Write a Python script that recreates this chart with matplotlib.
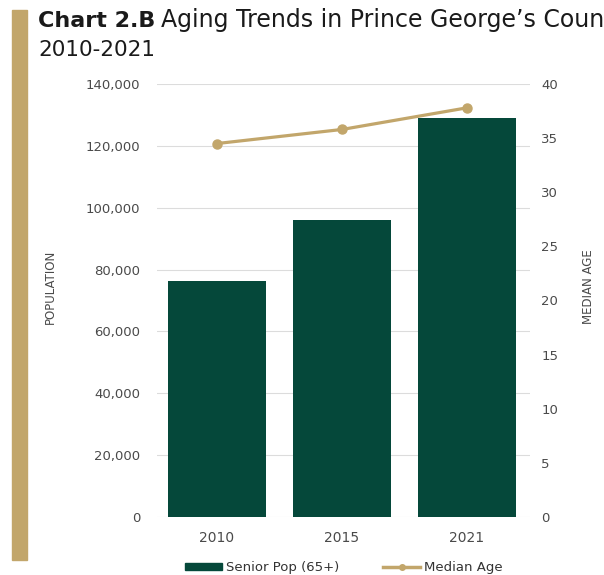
import matplotlib
matplotlib.use("Agg")
import matplotlib.pyplot as plt
from matplotlib.patches import Rectangle
from matplotlib.lines import Line2D
from matplotlib.ticker import FuncFormatter

plt.rcParams['font.family'] = ['DejaVu Sans']

# data
years = ['2010', '2015', '2021']
senior_pop = [76300, 96000, 129000]
median_age = [34.5, 35.8, 37.8]

green = '#05483a'
tan = '#c2a66b'
grey = '#4a4a4a'

W, H = 604, 575
fig = plt.figure(figsize=(W / 100, H / 100), dpi=100)

# tan side bar and two-line title (first line runs off the right edge)
fig.patches.append(Rectangle((12 / W, 1 - 560 / H), 15 / W, 550 / H,
                             transform=fig.transFigure, color=tan, zorder=0))
t1 = fig.text(38 / W, 1 - 27 / H, 'Chart 2.B', fontsize=16, fontweight='bold',
              color='#1a1a1a', ha='left', va='baseline')
fig.canvas.draw()
bb = t1.get_window_extent()
fig.text(bb.x1 / W + 6 / W, 1 - 27 / H, 'Aging Trends in Prince George\u2019s County,',
         fontsize=17, color='#1a1a1a', ha='left', va='baseline')
fig.text(38 / W, 1 - 56 / H, '2010-2021', fontsize=15.5,
         color='#1a1a1a', ha='left', va='baseline')

ax = fig.add_axes([157 / W, 1 - 517 / H, 373 / W, 433 / H])
x = range(len(years))
ax.bar(x, senior_pop, width=0.79, color=green, zorder=2)
ax.set_xlim(-0.48, 2.504)
ax.set_ylim(0, 140000)
ax.set_yticks(range(0, 140001, 20000))
ax.yaxis.set_major_formatter(FuncFormatter(lambda v, p: f'{int(v):,}'))
ax.set_xticks(list(x))
ax.set_xticklabels(years)
ax.grid(axis='y', color='#dcdcdc', linewidth=0.8, zorder=0)
for s in ax.spines.values():
    s.set_visible(False)
ax.tick_params(length=0, colors=grey)
ax.tick_params(axis='x', labelsize=10, pad=10)
ax.tick_params(axis='y', labelsize=9.5, pad=12)

ax2 = ax.twinx()
ax2.plot(x, median_age, color=tan, linewidth=2.3, marker='o', markersize=6.5, zorder=3)
ax2.set_ylim(0, 40)
ax2.set_yticks(range(0, 41, 5))
for s in ax2.spines.values():
    s.set_visible(False)
ax2.tick_params(length=0, labelsize=9.5, colors=grey, pad=8)

# axis titles
fig.text(50 / W, 1 - 287 / H, 'POPULATION', rotation=90, fontsize=8.5,
         color=grey, ha='center', va='center')
fig.text(589 / W, 1 - 287 / H, 'MEDIAN AGE', rotation=90, fontsize=8.5,
         color=grey, ha='center', va='center')

handles = [Rectangle((0, 0), 1, 1, color=green),
           Line2D([], [], color=tan, linewidth=2.5, marker='o', markersize=4)]
fig.legend(handles, ['Senior Pop (65+)', 'Median Age'], loc='center',
           bbox_to_anchor=(344 / W, 1 - 568 / H), ncol=2, frameon=False,
           fontsize=9.5, handlelength=2.8, handleheight=0.45, handletextpad=0.3,
           columnspacing=3.3, labelcolor='#333333', borderpad=0)

fig.savefig('out.png', dpi=100)
